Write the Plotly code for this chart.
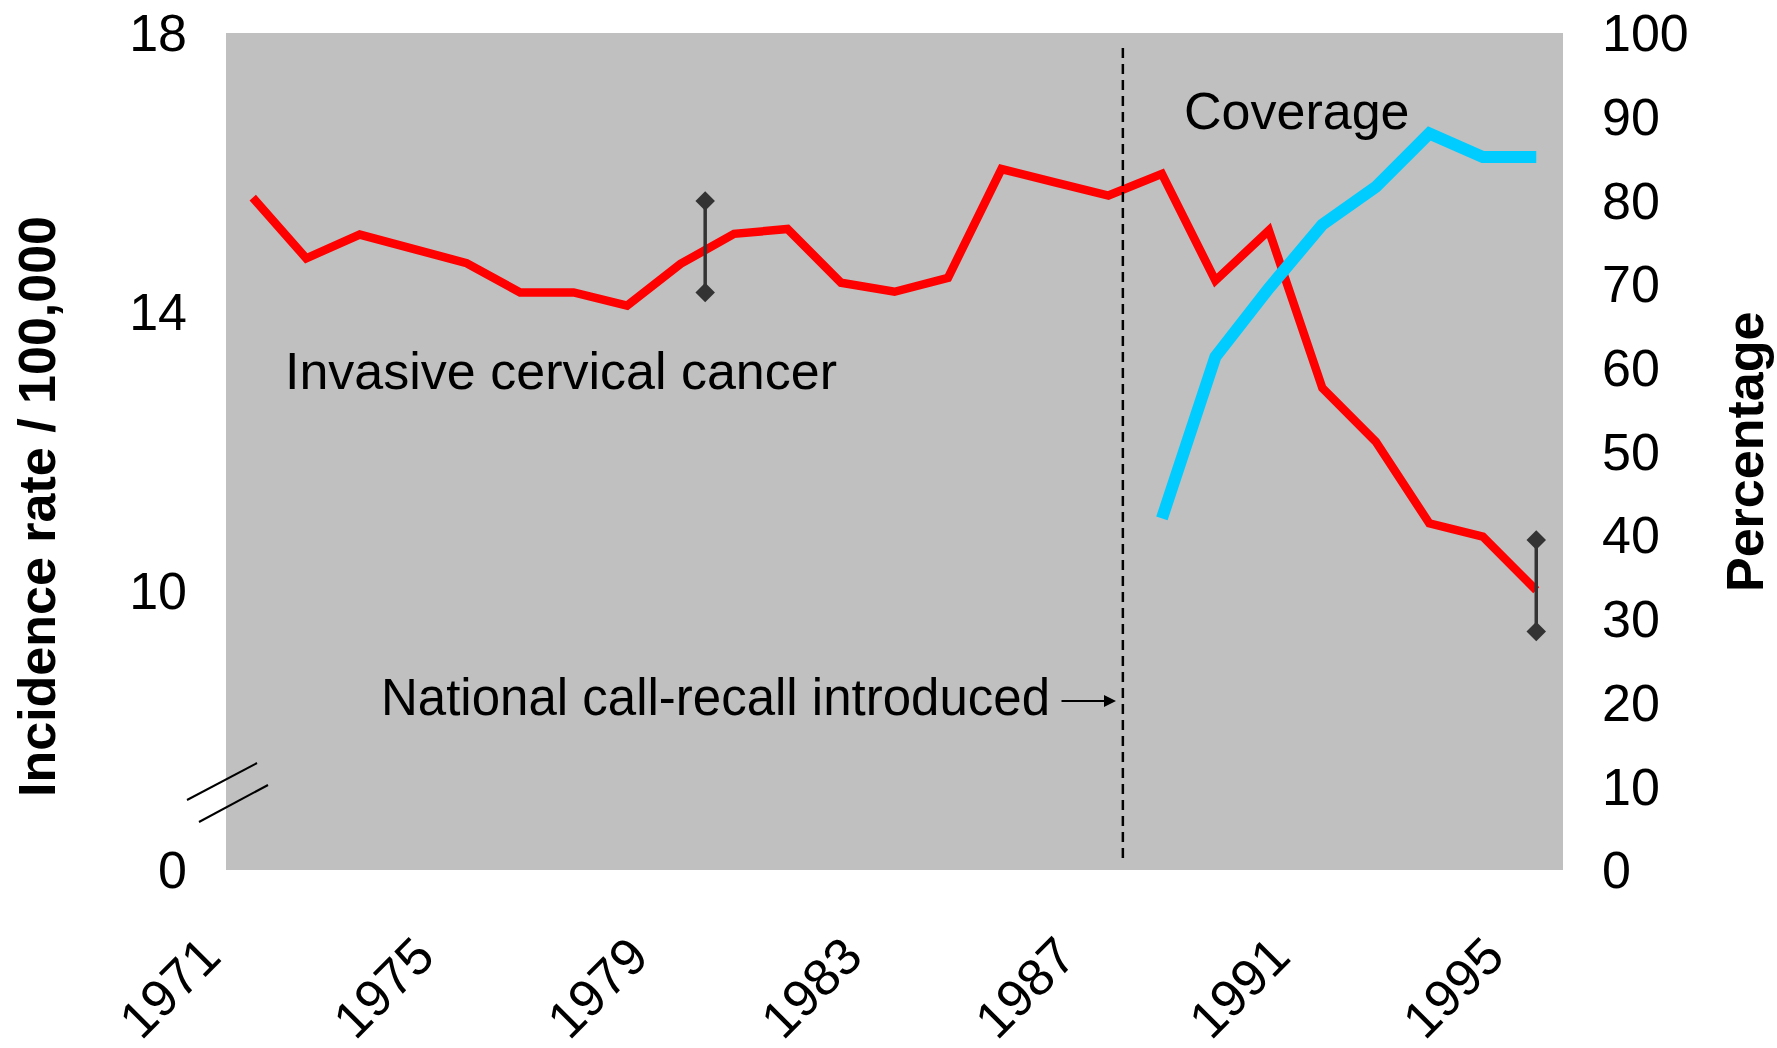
import plotly.graph_objects as go

# ---- data ----
years = list(range(1971, 1996))
incidence = [15.64, 14.77, 15.11, 14.90, 14.70, 14.28, 14.28, 14.09, 14.69, 15.12,
             15.19, 14.42, 14.29, 14.49, 16.05, 15.86, 15.67, 15.98, 14.45, 15.17,
             12.91, 12.14, 10.97, 10.78, 10.01]
cov_years = list(range(1988, 1996))
coverage = [42.0, 61.3, 69.5, 77.1, 81.6, 88.0, 85.2, 85.2]
err_x = [1979.46, 1995.0]
err_low = [14.28, 9.42]
err_high = [15.59, 10.73]
callrecall_year = 1987.27
x_tickvals = [1971, 1975, 1979, 1983, 1987, 1991, 1995]
y_tickvals = [6, 10, 14, 18]
y_ticktext = ["0", "10", "14", "18"]

W, H = 1777, 1048
L, R, T, B = 226, 1563, 33, 870
def px(x):
    return (x - L) / (R - L)
def py(y):
    return (B - y) / (B - T)

FONT = "Liberation Sans, Arial, sans-serif"
FS = 52

fig = go.Figure()
fig.add_trace(go.Scatter(x=years, y=incidence, mode="lines",
                         line=dict(color="#FF0000", width=8.5), yaxis="y",
                         showlegend=False, hoverinfo="skip"))
fig.add_trace(go.Scatter(x=cov_years, y=coverage, mode="lines",
                         line=dict(color="#00CCFF", width=12), yaxis="y2",
                         showlegend=False, hoverinfo="skip"))
for ex, lo, hi in zip(err_x, err_low, err_high):
    fig.add_trace(go.Scatter(x=[ex, ex], y=[lo, hi], mode="lines+markers",
                             line=dict(color="#333333", width=3.5),
                             marker=dict(symbol="diamond", size=15, color="#333333"),
                             yaxis="y", showlegend=False, hoverinfo="skip"))

# dashed vertical line
fig.add_shape(type="line", xref="x", yref="paper", x0=callrecall_year, x1=callrecall_year,
              y0=py(858), y1=py(45), line=dict(color="black", width=2.5, dash="10px,6px"))

# axis break marks
fig.add_shape(type="line", xref="paper", yref="paper", x0=px(187), y0=py(800), x1=px(257), y1=py(763),
              line=dict(color="black", width=2))
fig.add_shape(type="line", xref="paper", yref="paper", x0=px(199), y0=py(822), x1=px(268), y1=py(785),
              line=dict(color="black", width=2))

ann = []
ann.append(dict(text="Invasive cervical cancer", xref="paper", yref="paper", x=px(561), y=py(371),
                xanchor="center", yanchor="middle",
                showarrow=False, font=dict(size=FS, color="black", family=FONT)))
ann.append(dict(text="Coverage", xref="paper", yref="paper", x=px(1296), y=py(111),
                xanchor="center", yanchor="middle",
                showarrow=False, font=dict(size=FS, color="black", family=FONT)))
ann.append(dict(text="National call-recall introduced", xref="paper", yref="paper", x=px(1052), y=py(697),
                xanchor="right", yanchor="middle", showarrow=False,
                font=dict(size=51, color="black", family=FONT)))
ann.append(dict(text="", xref="paper", yref="paper", x=px(1116), y=py(701),
                ax=-56, ay=0, showarrow=True, arrowhead=2, arrowsize=1.2, arrowwidth=2,
                arrowcolor="black"))
ann.append(dict(text="<b>Incidence rate / 100,000</b>", xref="paper", yref="paper", x=px(37), y=py(507),
                xanchor="center", yanchor="middle",
                textangle=-90, showarrow=False, font=dict(size=FS, color="black", family=FONT)))
ann.append(dict(text="<b>Percentage</b>", xref="paper", yref="paper", x=px(1745), y=py(452),
                xanchor="center", yanchor="middle",
                textangle=-90, showarrow=False, font=dict(size=FS, color="black", family=FONT)))

fig.update_layout(
    width=W, height=H,
    margin=dict(l=L, r=W - R, t=T, b=H - B, pad=0, autoexpand=False),
    paper_bgcolor="white", plot_bgcolor="#C0C0C0",
    font=dict(family=FONT, color="black", size=FS),
    annotations=ann,
    xaxis=dict(range=[1970.5, 1995.5], tickvals=x_tickvals, tickangle=-45,
               showgrid=False, zeroline=False, showline=False, ticks="", automargin=False,
               ticklabelstandoff=44, ticklabelshift=-48,
               tickfont=dict(size=FS, family=FONT)),
    yaxis=dict(range=[6, 18], tickvals=y_tickvals, ticktext=y_ticktext, automargin=False,
               showgrid=False, zeroline=False, showline=False, ticks="",
               ticklabelstandoff=38, tickfont=dict(size=FS, family=FONT)),
    yaxis2=dict(range=[0, 100], dtick=10, overlaying="y", side="right", automargin=False,
                showgrid=False, zeroline=False, showline=False, ticks="",
                ticklabelstandoff=38, tickfont=dict(size=FS, family=FONT)),
)

fig.write_html("out.html", config={"displayModeBar": False},
               post_script="document.body.style.margin='0';")
